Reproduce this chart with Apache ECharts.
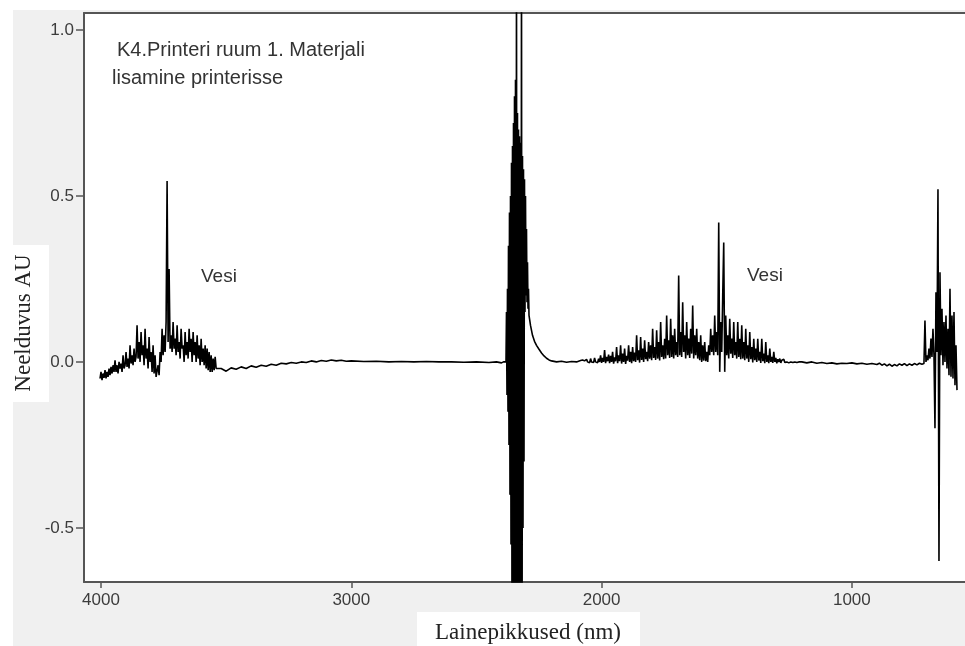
<!DOCTYPE html>
<html><head><meta charset="utf-8">
<script src="https://cdn.jsdelivr.net/npm/echarts@6/dist/echarts.min.js"></script>
<style>html,body{margin:0;padding:0;background:#fff}#c{width:965px;height:646px}</style>
</head><body><div id="c"></div>
<script>
// ---- tick labels ----
const xTicks = [4000, 3000, 2000, 1000];
const yTicks = [-0.5, 0.0, 0.5, 1.0];

// ---- spectrum ----
// left water band (wavenumber start, step, absorbance values)
const leftWaterStart = 4004, leftWaterStep = 4;
const leftWater = [
  -0.05,-0.03,-0.055,-0.035,-0.048,-0.025,-0.05,-0.03,-0.045,-0.02,
  -0.04,-0.015,-0.035,-0.01,-0.03,0.005,-0.03,-0.01,-0.035,0.0,-0.02,-0.005,-0.03,0.02,-0.02,
  -0.01,0.03,-0.015,0.01,-0.02,0.05,-0.005,0.02,-0.01,0.04,0.0,0.015,
  0.11,0.01,0.06,0.0,0.09,0.02,0.05,-0.01,0.1,0.01,0.04,-0.02,0.075,0.0,0.03,-0.03,0.05,-0.035,0.02,-0.045,
  -0.05,-0.01,-0.04,0.03,0.0,0.1,0.02,0.08,0.03,0.12,
  0.545,0.06,0.28,0.04,
  0.08,0.03,0.12,0.04,0.07,0.02,0.11,0.03,0.06,0.01,0.1,0.04,0.05,0.0,0.09,0.02,0.06,0.01,0.1,0.03,
  0.07,0.0,0.09,0.02,0.06,0.0,0.08,0.01,0.05,-0.01,0.07,0.0,0.04,-0.01,0.05,
  -0.02,0.04,-0.025,0.03,-0.03,0.02,-0.03,0.01,-0.025,0.015,-0.02
];
// flat region between the water band and CO2
const leftBaseWn = [3536,3520,3500,3480,3460,3440,3420,3400,3380,3360,3340,3320,3300,3280,3260,3240,3220,3200,3180,3160,3140,3120,3100,3080,3060,3040,3020,3000,2950,2900,2850,2800,2750,2700,2650,2600,2550,2500,2450,2420,2400,2392];
const leftBaseAbs = [-0.025,-0.02,-0.028,-0.018,-0.022,-0.015,-0.02,-0.012,-0.016,-0.01,-0.013,-0.007,-0.01,-0.004,-0.006,-0.002,-0.004,0.0,-0.002,0.003,0.0,0.004,0.002,0.006,0.003,0.005,0.002,0.003,0.001,0.002,0.0,0.001,0.0,0.001,0.0,0.0,-0.001,0.0,-0.002,0.0,-0.003,0.0];
// CO2 band
const co2Start = 2382, co2Step = 2;
const co2Band = [0.0,0.15,-0.1,0.22,-0.15,0.35,-0.25,0.45,-0.4,0.5,-0.55,0.6,-0.8,0.65,-0.9,0.72,-0.9,0.8,-0.9,0.85,-0.9,1.3,-1.2,0.75,-0.9,0.7,-0.9,0.68,-0.9,0.66,-0.85,1.3,-1.2,0.62,-0.5,0.58,-0.3,0.55,0.15,0.5,0.2,0.4,0.18,0.3,0.16,0.22,0.14];
// tail after CO2
const midBaseWn = [2284,2276,2268,2260,2250,2240,2230,2220,2210,2200,2180,2160,2140,2120,2100,2092];
const midBaseAbs = [0.11,0.08,0.062,0.05,0.038,0.027,0.018,0.011,0.006,0.003,0.0,0.002,-0.001,0.001,0.0,0.002];
// right water band
const rightWaterStart = 2088, rightWaterStep = 4;
const rightWater = [
  0.0,0.004,-0.002,0.006,0.0,0.003,-0.002,0.008,0.0,0.005,-0.003,0.01,0.0,0.004,-0.002,0.012,0.0,0.006,-0.003,0.01,
  0.0,0.02,-0.003,0.012,0.0,0.036,-0.004,0.015,0.002,0.022,-0.004,0.018,0.0,0.03,-0.005,0.014,0.002,
  0.045,-0.004,0.02,0.002,0.05,-0.005,0.025,0.0,0.04,-0.006,0.018,0.004,0.05,0.0,0.03,-0.004,0.045,0.002,
  0.028,0.0,0.08,0.005,0.035,-0.002,0.075,0.006,0.04,0.0,0.065,0.008,0.03,0.002,0.06,
  0.01,0.05,0.005,0.1,0.012,0.045,0.006,0.095,0.01,0.06,0.004,0.12,0.015,0.05,0.008,
  0.07,0.01,0.14,0.02,0.065,0.012,0.13,0.015,0.08,0.01,0.1,0.02,0.06,0.015,
  0.26,
  0.02,0.09,0.015,0.18,0.03,0.08,0.01,0.12,0.02,0.07,0.012,0.1,0.025,0.17,0.01,0.08,0.02,
  0.1,0.01,0.06,0.005,0.08,0.0,0.05,0.004,0.06,0.002,0.03,0.0,
  0.05,0.02,0.1,0.03,0.08,0.02,0.14,0.03,0.09,0.02,
  0.42,
  -0.03,0.12,0.03,0.2,
  0.36,
  -0.03,0.14,0.02,0.08,0.01,0.13,0.025,0.07,0.012,0.12,0.02,0.06,0.01,0.12,0.015,0.07,0.008,0.11,0.01,0.06,
  0.005,0.1,0.01,0.05,0.0,0.09,0.008,0.045,-0.002,0.07,0.005,0.04,0.0,0.07,0.004,
  0.03,-0.003,0.07,0.002,0.025,-0.004,0.06,0.0,0.02,-0.004,0.04,0.0,0.015,-0.003,0.03,
  0.0,0.012,-0.004,0.008,0.0,0.01,-0.003,0.005,0.0,0.008,-0.002,0.004,0.0,0.006,-0.003,0.003,0.0,0.005,-0.002,0.002,0.0,0.003,-0.002,0.001,0.0
];
// flat region before the last band
const rightBaseWn = [1200,1180,1160,1140,1120,1100,1080,1060,1040,1020,1000,980,960,940,920,900,890,880,870,860,850,840,830,820,810,800,790,780,770,760,750,740,730,720];
const rightBaseAbs = [0.0,-0.003,0.0,-0.004,-0.002,-0.005,-0.003,-0.006,-0.004,-0.005,-0.003,-0.006,-0.004,-0.007,-0.005,-0.008,-0.004,-0.01,-0.006,-0.012,-0.007,-0.013,-0.008,-0.012,-0.006,-0.01,-0.005,-0.011,-0.006,-0.01,-0.005,-0.009,-0.004,-0.007];
// last band at the low end
const endStart = 712, endStep = 4;
const endBand = [-0.005,0.125,0.0,0.02,0.005,0.04,0.01,0.07,0.015,0.1,0.02,-0.2,0.21,0.03,0.52,-0.6,0.27,0.02,0.16,-0.01,0.12,0.0,0.14,-0.02,0.1,-0.04,0.22,-0.045,0.14,-0.05,0.15,-0.07,0.05,-0.085];

// ---- assemble ----
const data = [];
function pushRun(start, step, vals) { vals.forEach((v, i) => data.push([start - i * step, v])); }
function pushPairs(wn, ab) { wn.forEach((w, i) => data.push([w, ab[i]])); }
pushRun(leftWaterStart, leftWaterStep, leftWater);
pushPairs(leftBaseWn, leftBaseAbs);
pushRun(co2Start, co2Step, co2Band);
pushPairs(midBaseWn, midBaseAbs);
pushRun(rightWaterStart, rightWaterStep, rightWater);
pushPairs(rightBaseWn, rightBaseAbs);
pushRun(endStart, endStep, endBand);

const axisColor = '#555';
const labelFont = { fontSize: 17, color: '#3c3c3c', fontFamily: 'Liberation Sans' };

const chart = echarts.init(document.getElementById('c'), null, { renderer: 'canvas' });
chart.setOption({
  animation: false,
  backgroundColor: '#fff',
  grid: { left: 84, top: 13, right: 0, bottom: 64, show: false },
  xAxis: [{
    type: 'value', inverse: true, min: 548, max: 4068, position: 'bottom',
    axisLine: { show: true, onZero: false, lineStyle: { color: axisColor, width: 2 } },
    axisTick: { show: true, length: 6, customValues: xTicks, lineStyle: { color: axisColor, width: 1.5 } },
    axisLabel: Object.assign({ customValues: xTicks, margin: 10, formatter: v => String(v) }, labelFont),
    splitLine: { show: false }
  }, {
    type: 'value', inverse: true, min: 548, max: 4068, position: 'top',
    axisLine: { show: true, onZero: false, lineStyle: { color: axisColor, width: 2 } },
    axisTick: { show: false }, axisLabel: { show: false }, splitLine: { show: false }
  }],
  yAxis: {
    type: 'value', min: -0.663, max: 1.051, position: 'left',
    axisLine: { show: true, onZero: false, lineStyle: { color: axisColor, width: 2 } },
    axisTick: { show: true, length: 8, customValues: yTicks, lineStyle: { color: axisColor, width: 1.5 } },
    axisLabel: Object.assign({ customValues: yTicks, margin: 10, formatter: v => v.toFixed(1) }, labelFont),
    splitLine: { show: false }
  },
  graphic: [
    { type: 'rect', z: -100, shape: { x: 13, y: 10, width: 952, height: 636 }, style: { fill: '#f0f0f0' }, silent: true },
    { type: 'rect', z: -99, shape: { x: 84, y: 13, width: 881, height: 569 }, style: { fill: '#fff' }, silent: true },
    { type: 'rect', z: 5, shape: { x: 13, y: 245, width: 36, height: 157 }, style: { fill: '#fff' }, silent: true },
    { type: 'text', z: 6, x: 24, y: 323, rotation: Math.PI / 2,
      style: { text: 'Neelduvus AU', font: '23px "Liberation Serif"', fill: '#222', align: 'center', verticalAlign: 'middle' } },
    { type: 'rect', z: 5, shape: { x: 417, y: 612, width: 223, height: 34 }, style: { fill: '#fff' }, silent: true },
    { type: 'text', z: 6, x: 528, y: 633,
      style: { text: 'Lainepikkused (nm)', font: '23px "Liberation Serif"', fill: '#222', align: 'center', verticalAlign: 'middle' } },
    { type: 'text', z: 6, x: 117, y: 50,
      style: { text: 'K4.Printeri ruum 1. Materjali', font: '20px "Liberation Sans"', fill: '#333', align: 'left', verticalAlign: 'middle' } },
    { type: 'text', z: 6, x: 112, y: 78,
      style: { text: 'lisamine printerisse', font: '20px "Liberation Sans"', fill: '#333', align: 'left', verticalAlign: 'middle' } },
    { type: 'text', z: 6, x: 201, y: 277,
      style: { text: 'Vesi', font: '19px "Liberation Sans"', fill: '#333', align: 'left', verticalAlign: 'middle' } },
    { type: 'text', z: 6, x: 747, y: 276,
      style: { text: 'Vesi', font: '19px "Liberation Sans"', fill: '#333', align: 'left', verticalAlign: 'middle' } }
  ],
  series: [{
    type: 'line', data: data, xAxisIndex: 0, yAxisIndex: 0,
    showSymbol: false, symbol: 'none', clip: true, silent: true,
    lineStyle: { color: '#000', width: 1.6 }, z: 3
  }]
});
</script></body></html>
